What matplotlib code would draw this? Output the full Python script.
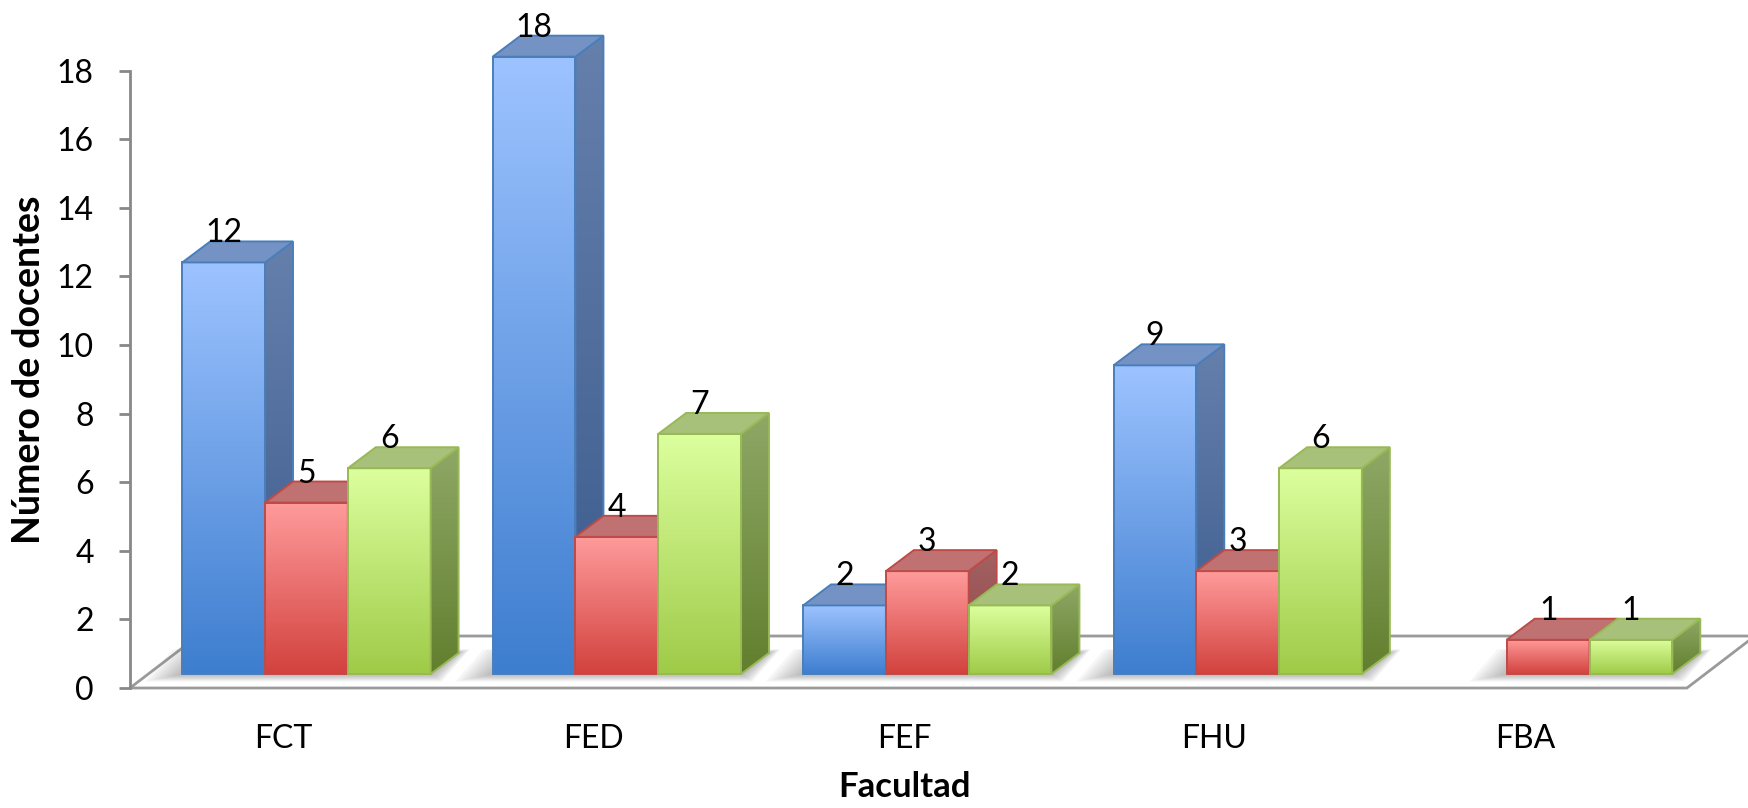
import numpy as np
import matplotlib.pyplot as plt
from matplotlib.patches import Polygon
from matplotlib.colors import to_rgb

plt.rcParams["font.family"] = ["Lato", "DejaVu Sans"]

facultades = ["FCT", "FED", "FEF", "FHU", "FBA"]
serie_azul = [12, 18, 2, 9, 0]
serie_roja = [5, 4, 3, 3, 1]
serie_verde = [6, 7, 2, 6, 1]
yticks = list(range(0, 19, 2))

# colores (frente arriba, frente abajo, lado arriba, lado abajo, tapa, borde)
azul = ["#9DC3FF", "#3E7ECF", "#6680AC", "#3A5A8C", "#7493C4", "#4A7EBB"]
rojo = ["#FF9B9B", "#D2423E", "#A46262", "#8E4444", "#C07272", "#BE4B48"]
verde = ["#DCFF9E", "#9FCB48", "#8EA866", "#627F2E", "#A7C07A", "#98B954"]

bw = 0.8 / 3          # ancho de barra
dx, dy = 0.090, 0.612  # profundidad de barra
z0 = 0.408             # frente de las barras sobre el piso
fx0, fx1 = -0.5686, 4.447
fdx, fdy = 0.219, 1.516


def grad_poly(ax, verts, c_top, c_bot, edge, z):
    verts = np.array(verts)
    poly = Polygon(verts, closed=True, facecolor="none", edgecolor=edge, lw=1.4, zorder=z + 0.5)
    ax.add_patch(poly)
    t = np.linspace(0, 1, 128)[:, None]
    img = (1 - t) * np.array(to_rgb(c_top)) + t * np.array(to_rgb(c_bot))
    im = ax.imshow(img[:, None, :], extent=(verts[:, 0].min(), verts[:, 0].max(),
                                            verts[:, 1].min(), verts[:, 1].max()),
                   aspect="auto", origin="upper", zorder=z, interpolation="bilinear")
    im.set_clip_path(poly)


fig = plt.figure(figsize=(17.49, 8.08), dpi=100)
ax = fig.add_axes([0.0743, 0.1485, 1 - 0.0743, 1 - 0.1485])

# piso
piso = [(fx0, 0), (fx1, 0), (fx1 + fdx, fdy), (fx0 + fdx, fdy)]
ax.add_patch(Polygon(piso, closed=True, fc="white", ec="#9A9A9A", lw=2, zorder=1, clip_on=False))

series = [(serie_azul, azul), (serie_roja, rojo), (serie_verde, verde)]

# sombras bajo las barras
for i in range(len(facultades)):
    ks = [k for k, (vals, _) in enumerate(series) if vals[i] > 0]
    l = i - 0.4 + ks[0] * bw
    r = i - 0.4 + (ks[-1] + 1) * bw
    for s in np.linspace(0.12, 0.01, 10):
        sy = s * 3
        sh = [(l - s, z0 - sy * 0.6), (r + s * 0.3, z0 - sy * 0.6),
              (r + dx + s * 0.3, z0 + dy + sy * 0.3), (l + dx - s, z0 + dy + sy * 0.3)]
        ax.add_patch(Polygon(sh, closed=True, fc="#707070", ec="none", alpha=0.06, zorder=2))

for i in range(len(facultades)):
    for k, (vals, col) in enumerate(series):
        v = vals[i]
        if v <= 0:
            continue
        l = i - 0.4 + k * bw
        r = l + bw
        b, t = z0, z0 + v
        zo = 10 + i * 10 + k * 3
        front = [(l, b), (r, b), (r, t), (l, t)]
        side = [(r, b), (r + dx, b + dy), (r + dx, t + dy), (r, t)]
        top = [(l, t), (r, t), (r + dx, t + dy), (l + dx, t + dy)]
        grad_poly(ax, front, col[0], col[1], col[5], zo)
        grad_poly(ax, side, col[2], col[3], col[5], zo + 1)
        ax.add_patch(Polygon(top, closed=True, fc=col[4], ec=col[5], lw=1.4, zorder=zo + 2))
        ax.text((l + r) / 2, t + dy - 0.03, str(v), ha="center", va="baseline",
                fontsize=23, zorder=100)

ax.set_xlim(fx0, 4.647)
ax.set_ylim(0, 20.06)
for sp in ["top", "right", "bottom"]:
    ax.spines[sp].set_visible(False)
ax.spines["left"].set_bounds(0, 18)
ax.spines["left"].set_color("#888888")
ax.spines["left"].set_linewidth(2)
ax.set_yticks(yticks)
ax.tick_params(axis="y", length=8, width=2, color="#888888", pad=18, labelsize=23)
ax.set_xticks(np.arange(len(facultades)) - 0.075, facultades)
ax.tick_params(axis="x", length=0, pad=26, labelsize=23)
ax.patch.set_visible(False)

fig.text(905 / 1749, 1 - 787 / 808, "Facultad", ha="center", va="center",
         fontsize=25, fontweight="bold")
fig.text(29 / 1749, 1 - 370 / 808, "Número de docentes", ha="center", va="center",
         rotation=90, fontsize=27, fontweight="bold")

fig.savefig("out.png", dpi=100)
